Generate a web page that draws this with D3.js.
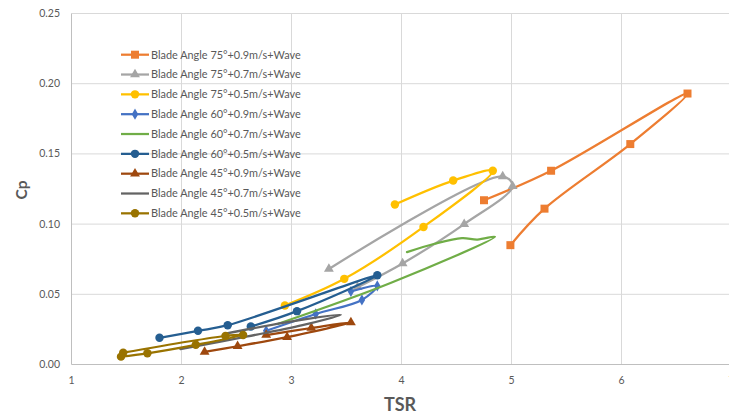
<!DOCTYPE html>
<html>
<head>
<meta charset="utf-8">
<script src="https://cdn.jsdelivr.net/npm/d3@7"></script>
<style>
  body { margin: 0; background: #fff; }
  svg { display: block; font-family: Lato, "Open Sans", sans-serif; }
</style>
</head>
<body>
<svg id="chart" width="729" height="416"></svg>
<script>
// series values (TSR, Cp), in drawing order
var s75_09_tsr = [4.75, 5.36, 6.60, 6.08, 5.30, 4.99];
var s75_09_cp  = [0.117, 0.138, 0.193, 0.157, 0.111, 0.085];
var s75_07_tsr = [3.34, 4.92, 5.01, 4.57, 4.01, 3.60];
var s75_07_cp  = [0.068, 0.134, 0.127, 0.100, 0.072, 0.055];
var s75_05_tsr = [3.94, 4.47, 4.83, 4.20, 3.48, 2.94];
var s75_05_cp  = [0.114, 0.131, 0.138, 0.098, 0.061, 0.042];
var s60_09_tsr = [2.77, 3.22, 3.64, 3.78, 3.54];
var s60_09_cp  = [0.024, 0.036, 0.046, 0.056, 0.052];
var s60_07_tsr = [4.05, 4.30, 4.55, 4.69, 4.85, 3.90, 2.88];
var s60_07_cp  = [0.080, 0.086, 0.090, 0.089, 0.091, 0.058, 0.029];
var s60_05_tsr = [1.80, 2.15, 2.42, 3.78, 3.05, 2.63];
var s60_05_cp  = [0.019, 0.024, 0.028, 0.0635, 0.038, 0.027];
var s45_09_tsr = [2.21, 2.51, 2.96, 3.54, 3.18, 2.77];
var s45_09_cp  = [0.009, 0.013, 0.0195, 0.030, 0.026, 0.021];
var s45_07_tsr = [1.99, 2.60, 3.10, 3.45, 2.95, 2.40];
var s45_07_cp  = [0.011, 0.020, 0.028, 0.0355, 0.030, 0.022];
var s45_05_tsr = [1.47, 2.40, 2.56, 2.13, 1.69, 1.45];
var s45_05_cp  = [0.0084, 0.0203, 0.021, 0.014, 0.008, 0.0056];

var seriesNames = [
  "Blade Angle 75°+0.9m/s+Wave", "Blade Angle 75°+0.7m/s+Wave", "Blade Angle 75°+0.5m/s+Wave",
  "Blade Angle 60°+0.9m/s+Wave", "Blade Angle 60°+0.7m/s+Wave", "Blade Angle 60°+0.5m/s+Wave",
  "Blade Angle 45°+0.9m/s+Wave", "Blade Angle 45°+0.7m/s+Wave", "Blade Angle 45°+0.5m/s+Wave"
];
var seriesColors = ["#ED7D31", "#A5A5A5", "#FFC000", "#4472C4", "#70AD47", "#255E91", "#9E480E", "#636363", "#997300"];
var seriesMarkers = ["square", "triangle", "circle", "diamond", "none", "circle", "triangle", "none", "circle"];
var xTicks = [1, 2, 3, 4, 5, 6, 7];
var yTicks = [0, 0.05, 0.10, 0.15, 0.20, 0.25];

var allTsr = [s75_09_tsr, s75_07_tsr, s75_05_tsr, s60_09_tsr, s60_07_tsr, s60_05_tsr, s45_09_tsr, s45_07_tsr, s45_05_tsr];
var allCp  = [s75_09_cp, s75_07_cp, s75_05_cp, s60_09_cp, s60_07_cp, s60_05_cp, s45_09_cp, s45_07_cp, s45_05_cp];

var series = seriesNames.map(function(name, i){
  return {
    name: name, color: seriesColors[i], marker: seriesMarkers[i],
    points: allTsr[i].map(function(t, j){ return {tsr: t, cp: allCp[i][j]}; })
  };
});

var svg = d3.select("#chart");
var x = d3.scaleLinear().domain([1, 7]).range([71.5, 731.5]);
var y = d3.scaleLinear().domain([0, 0.25]).range([364.5, 13.5]);

// grid
svg.append("g").selectAll("line.h")
  .data(yTicks.filter(function(d){ return d > 0; }))
  .enter().append("line")
  .attr("x1", x(1)).attr("x2", x(7))
  .attr("y1", function(d){ return y(d); }).attr("y2", function(d){ return y(d); })
  .attr("stroke", "#d9d9d9").attr("stroke-width", 1);

svg.append("g").selectAll("line.v")
  .data(xTicks)
  .enter().append("line")
  .attr("x1", function(d){ return x(d); }).attr("x2", function(d){ return x(d); })
  .attr("y1", y(0.25)).attr("y2", y(0))
  .attr("stroke", function(d){ return d == 1 ? "#bfbfbf" : "#d9d9d9"; }).attr("stroke-width", 1);

svg.append("line")
  .attr("x1", x(1)).attr("x2", x(7)).attr("y1", y(0)).attr("y2", y(0))
  .attr("stroke", "#bfbfbf").attr("stroke-width", 1);

// tick labels
svg.append("g").selectAll("text")
  .data(yTicks).enter().append("text")
  .attr("x", 60).attr("y", function(d){ return y(d) + 3.5; })
  .attr("text-anchor", "end").attr("font-size", "10.5px").attr("fill", "#595959")
  .text(d3.format(".2f"));

svg.append("g").selectAll("text")
  .data(xTicks).enter().append("text")
  .attr("x", function(d){ return x(d); }).attr("y", 384)
  .attr("text-anchor", "middle").attr("font-size", "10.5px").attr("fill", "#595959")
  .text(function(d){ return d; });

// axis titles
svg.append("text")
  .attr("x", 400).attr("y", 411).attr("text-anchor", "middle")
  .attr("font-size", "18px").attr("font-weight", "bold").attr("fill", "#595959")
  .text("TSR");
svg.append("text")
  .attr("transform", "translate(27,190) rotate(-90)").attr("text-anchor", "middle")
  .attr("font-size", "15.5px").attr("font-weight", "bold").attr("fill", "#595959")
  .text("Cp");

function markerPath(type){
  if(type == "square") return d3.symbol(d3.symbolSquare, 64)();
  if(type == "triangle") return d3.symbol(d3.symbolTriangle, 42)();
  if(type == "circle") return d3.symbol(d3.symbolCircle, 56)();
  if(type == "diamond") return d3.symbol(d3.symbolDiamond, 36)();
  return null;
}

var line = d3.line()
  .x(function(d){ return x(d.tsr); })
  .y(function(d){ return y(d.cp); })
  .curve(d3.curveCatmullRom.alpha(0.5));

var plot = svg.append("g");
series.forEach(function(s){
  var g = plot.append("g");
  g.append("path").datum(s.points)
    .attr("d", line).attr("fill", "none")
    .attr("stroke", s.color).attr("stroke-width", 2.25)
    .attr("stroke-linejoin", "round").attr("stroke-linecap", "round");
  if(s.marker != "none"){
    g.selectAll("path.m").data(s.points).enter().append("path")
      .attr("d", markerPath(s.marker))
      .attr("transform", function(d){ return "translate(" + x(d.tsr) + "," + y(d.cp) + ")"; })
      .attr("fill", s.color);
  }
});

// legend
var legend = svg.append("g").selectAll("g")
  .data(series).enter().append("g")
  .attr("transform", function(d, i){ return "translate(0," + (54.7 + i * 19.83) + ")"; });
legend.append("line")
  .attr("x1", 121).attr("x2", 149).attr("y1", 0).attr("y2", 0)
  .attr("stroke", function(d){ return d.color; }).attr("stroke-width", 2.25);
legend.filter(function(d){ return d.marker != "none"; }).append("path")
  .attr("d", function(d){ return markerPath(d.marker); })
  .attr("transform", "translate(135,0)")
  .attr("fill", function(d){ return d.color; });
legend.append("text")
  .attr("x", 151).attr("y", 3.8).attr("font-size", "10.9px").attr("fill", "#595959")
  .text(function(d){ return d.name; });
</script>
</body>
</html>
